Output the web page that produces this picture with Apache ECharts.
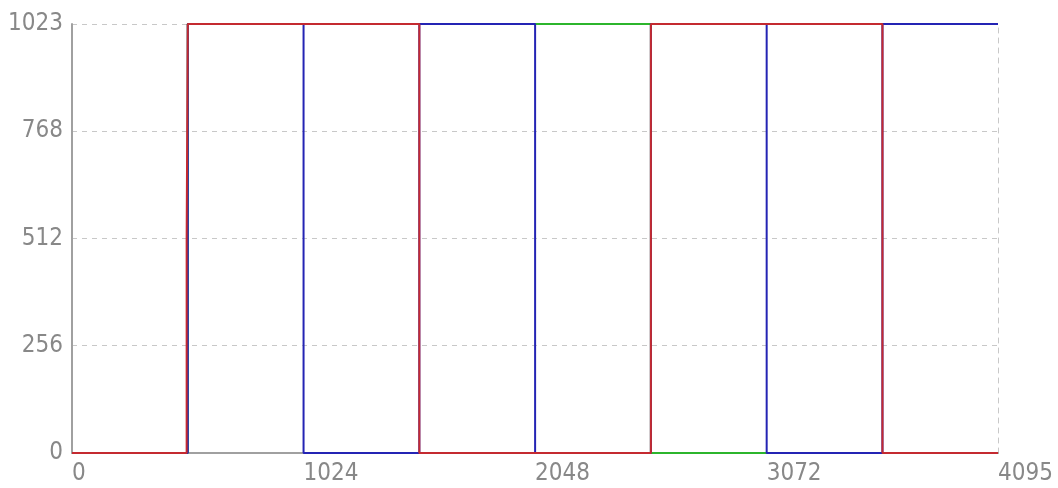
<!DOCTYPE html>
<html><head><meta charset="utf-8">
<script src="https://cdn.jsdelivr.net/npm/echarts@6/dist/echarts.min.js"></script>
<style>html,body{margin:0;padding:0;background:#fff}#c{width:1058px;height:488px}</style>
</head><body><div id="c"></div>
<script>
const xTicks = [0, 1024, 2048, 3072, 4095];
const yTicks = [0, 256, 512, 768, 1023];
const greenX = [0, 512, 512, 2560, 2560, 4095];
const greenY = [0, 0, 1023, 1023, 0, 0];
const blueX = [0, 512, 512, 1024, 1024, 1536, 1536, 2048, 2048, 2560, 2560, 3072, 3072, 3584, 3584, 4095];
const blueY = [0, 0, 1023, 1023, 0, 0, 1023, 1023, 0, 0, 1023, 1023, 0, 0, 1023, 1023];
const redX = [0, 507, 507, 512, 512, 1536, 1536, 2560, 2560, 3584, 3584, 4095];
const redY = [0, 0, 512, 512, 1023, 1023, 0, 0, 1023, 1023, 0, 0];

const pair = (xs, ys) => xs.map((x, i) => [x, ys[i]]);
const font = "'Liberation Sans Narrow', 'DejaVu Sans Condensed', sans-serif";
const chart = echarts.init(document.getElementById('c'));
chart.setOption({
  animation: false,
  grid: {left: 72, right: 60, top: 24, bottom: 35, outerBoundsMode: 'none', containLabel: false},
  xAxis: {
    type: 'value', min: xTicks[0], max: xTicks[xTicks.length - 1], interval: 1024,
    axisLine: {show: true, lineStyle: {color: '#a0a0a0', width: 2}},
    axisTick: {show: false},
    splitLine: {show: false},
    axisLabel: {color: '#888', fontFamily: font, fontSize: 24, align: 'left', margin: 9,
      showMinLabel: true, showMaxLabel: true, hideOverlap: false, formatter: v => String(v)}
  },
  yAxis: [{
    type: 'value', min: yTicks[0], max: yTicks[yTicks.length - 1], interval: 256,
    axisLine: {show: true, lineStyle: {color: '#a0a0a0', width: 2}},
    axisTick: {show: false},
    splitLine: {show: true, lineStyle: {color: '#c8c8c8', type: [5, 5], width: 1}},
    axisLabel: {color: '#888', fontFamily: font, fontSize: 24, margin: 9,
      showMinLabel: true, showMaxLabel: true, formatter: v => String(v)}
  }, {
    type: 'value', position: 'right', min: 0, max: 1023,
    axisLine: {show: true, lineStyle: {color: '#c8c8c8', type: [5, 5], width: 1}},
    axisTick: {show: false}, axisLabel: {show: false}, splitLine: {show: false}
  }],
  series: [
    {type: 'line', data: pair(greenX, greenY), showSymbol: false, lineStyle: {color: '#2cb52c', width: 2}, itemStyle: {color: '#2cb52c'}},
    {type: 'line', data: pair(blueX, blueY), showSymbol: false, lineStyle: {color: '#2424b4', width: 2}, itemStyle: {color: '#2424b4'}},
    {type: 'line', data: pair(redX, redY), showSymbol: false, lineStyle: {color: '#c42a30', width: 2}, itemStyle: {color: '#c42a30'}}
  ]
});
</script></body></html>
